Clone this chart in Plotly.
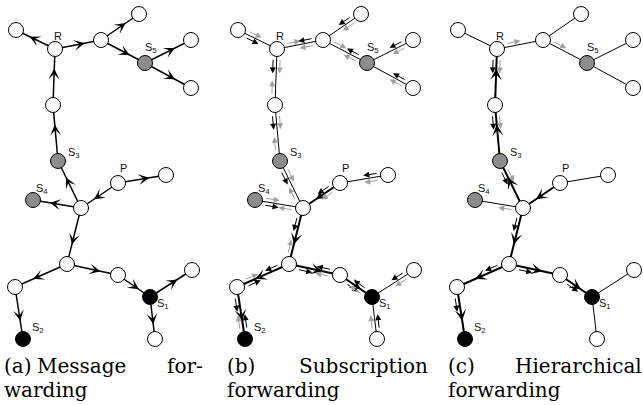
import math
import plotly.graph_objects as go

# ---------------- data ----------------
node_names = ["TL", "R", "N1", "T", "S5", "RT", "RB", "B1", "S3", "P",
              "PR", "S4", "C", "LC", "L", "S2", "MR", "S1", "R2", "BR"]
node_x = [16, 55, 101, 139, 145, 191, 191, 53, 58, 118,
          166, 33, 81, 67, 15, 23, 118, 150, 192, 155]
node_y = [30, 49, 40, 14, 63, 40, 88, 105, 161, 183,
          175, 200, 208, 264, 287, 339, 275, 297, 270, 339]
edge_from = [0, 1, 2, 2, 4, 4, 1, 7, 8, 12, 9, 12, 12, 13, 14, 13, 16, 17, 17]
edge_to = [1, 2, 3, 4, 5, 6, 7, 8, 12, 9, 10, 11, 13, 14, 15, 16, 17, 18, 19]
black_subscribers = [17, 15]      # S1, S2
gray_subscribers = [8, 11, 4]     # S3, S4, S5
publisher = 9                     # P
root = 1                          # R
label_nodes = [1, 4, 8, 9, 11, 17, 15]
label_texts = ["R", "S<sub>5</sub>", "S<sub>3</sub>", "P", "S<sub>4</sub>",
               "S<sub>1</sub>", "S<sub>2</sub>"]
caption_label = ["(a)", "(b)", "(c)"]
caption_mid = ["Message", "", ""]
caption_end = ["for-", "Subscription", "Hierarchical"]
caption_line2 = ["warding", "forwarding", "forwarding"]

# ---------------- layout / style ----------------
W, H = 643, 405
panel_dx = [0, 222, 442]
label_off = [(3, -13), (6, -15), (16, -8), (5, -15), (9, -11), (13, 7), (15, -11)]
cap_left = [3, 226, 447]
cap_mid_x = [36, None, None]
cap_right = [204, 429, 643]
cap_y1, cap_y2 = 366, 389.5
R_NODE = 7.5
GRAY_FILL = "#8c8c8c"
GRAY_ARROW = "#a0a0a0"
SERIF = "DejaVu Serif, serif"
SANS = "Liberation Sans, Arial, Helvetica, sans-serif"

n = len(node_x)
adj = {i: [] for i in range(n)}
for a, b in zip(edge_from, edge_to):
    adj[a].append(b)
    adj[b].append(a)


def side(u, v):
    """nodes reachable from v without passing through u"""
    seen = {u, v}
    stack = [v]
    out = {v}
    while stack:
        k = stack.pop()
        for m in adj[k]:
            if m not in seen:
                seen.add(m)
                out.add(m)
                stack.append(m)
    return out


def parents(src):
    par = {src: None}
    order = [src]
    for k in order:
        for m in adj[k]:
            if m not in par:
                par[m] = k
                order.append(m)
    return par


pub_par = parents(publisher)
root_par = parents(root)
pub_edges = [(pub_par[v], v) for v in range(n) if pub_par[v] is not None]

# message arrows per panel
msg_a = pub_edges
msg_b = [(u, v) for (u, v) in pub_edges if side(u, v) & set(black_subscribers)]
msg_c = [(u, v) for (u, v) in pub_edges
         if (root in side(u, v)) or (root_par.get(v) == u and side(u, v) & set(black_subscribers))]

# subscription arrows per panel: (u, v, colour)
sub_b = []
for a, b in zip(edge_from, edge_to):
    for u, v in ((a, b), (b, a)):
        s = side(u, v)
        if s & set(gray_subscribers):
            sub_b.append((u, v, "gray"))
        if s & set(black_subscribers):
            sub_b.append((u, v, "black"))
sub_c = [(u, v, c) for (u, v, c) in sub_b if root_par.get(v) == u]

fig = go.Figure()
annotations = []


def unit(u, v):
    dx = node_x[v] - node_x[u]
    dy = node_y[v] - node_y[u]
    L = math.hypot(dx, dy)
    return dx / L, dy / L, L


for p, dxp in enumerate(panel_dx):
    msg = [msg_a, msg_b, msg_c][p]
    msg_set = {frozenset(e) for e in msg}
    thin_x, thin_y, thick_x, thick_y = [], [], [], []
    for a, b in zip(edge_from, edge_to):
        bold = (p > 0 and frozenset((a, b)) in msg_set)
        xs, ys = (thick_x, thick_y) if bold else (thin_x, thin_y)
        xs += [node_x[a] + dxp, node_x[b] + dxp, None]
        ys += [node_y[a], node_y[b], None]
    fig.add_trace(go.Scatter(x=thin_x, y=thin_y, mode="lines",
                             line=dict(color="black", width=1.5 if p == 0 else 1.0),
                             hoverinfo="skip"))
    if thick_x:
        fig.add_trace(go.Scatter(x=thick_x, y=thick_y, mode="lines",
                                 line=dict(color="black", width=2.0), hoverinfo="skip"))
    fills = []
    for i in range(n):
        if i in black_subscribers:
            fills.append("black")
        elif i in gray_subscribers:
            fills.append(GRAY_FILL)
        else:
            fills.append("white")
    fig.add_trace(go.Scatter(x=[x + dxp for x in node_x], y=node_y, mode="markers",
                             marker=dict(size=15, color=fills,
                                         line=dict(color="black", width=1)),
                             hoverinfo="skip"))
    # message arrowheads
    for u, v in msg:
        ux, uy, L = unit(u, v)
        hx = node_x[u] + dxp + ux * L * 0.65
        hy = node_y[u] + uy * L * 0.65
        annotations.append(dict(x=hx, y=hy, ax=hx - ux * 7, ay=hy - uy * 7,
                                xref="x", yref="y", axref="x", ayref="y",
                                text="", showarrow=True, arrowhead=3,
                                arrowsize=1.2 if p == 0 else 0.95,
                                arrowwidth=1.5 if p == 0 else 2.0,
                                arrowcolor="black", standoff=0))
    # subscription arrows
    subs = [[], sub_b, sub_c][p]
    for u, v, c in subs:
        ux, uy, L = unit(u, v)
        lx, ly = uy, -ux  # left normal (screen coords)
        sgn = 1 if c == "gray" else -1
        off = 3.5
        tx = node_x[u] + dxp + ux * (R_NODE + 2) + sgn * lx * off
        ty = node_y[u] + uy * (R_NODE + 2) + sgn * ly * off
        hx = tx + ux * 15
        hy = ty + uy * 15
        annotations.append(dict(x=hx, y=hy, ax=tx, ay=ty,
                                xref="x", yref="y", axref="x", ayref="y",
                                text="", showarrow=True, arrowhead=2,
                                arrowsize=1.2, arrowwidth=1,
                                arrowcolor="black" if c == "black" else GRAY_ARROW,
                                standoff=0))
    # node labels
    for k, i in enumerate(label_nodes):
        ox, oy = label_off[k]
        annotations.append(dict(x=node_x[i] + dxp + ox, y=node_y[i] + oy,
                                xref="x", yref="y", text=label_texts[k],
                                showarrow=False, font=dict(family=SANS, size=11, color="#111"),
                                xanchor="center", yanchor="middle"))
    # captions
    capfont = dict(family=SERIF, size=20, color="black")
    annotations.append(dict(x=cap_left[p], y=cap_y1, xref="x", yref="y",
                            text=caption_label[p], showarrow=False, font=capfont,
                            xanchor="left", yanchor="middle", borderpad=0))
    if caption_mid[p]:
        annotations.append(dict(x=cap_mid_x[p], y=cap_y1, xref="x", yref="y",
                                text=caption_mid[p], showarrow=False, font=capfont,
                                xanchor="left", yanchor="middle", borderpad=0))
    annotations.append(dict(x=cap_right[p], y=cap_y1, xref="x", yref="y",
                            text=caption_end[p], showarrow=False, font=capfont,
                            xanchor="right", yanchor="middle", borderpad=0))
    annotations.append(dict(x=cap_left[p], y=cap_y2, xref="x", yref="y",
                            text=caption_line2[p], showarrow=False, font=capfont,
                            xanchor="left", yanchor="middle", borderpad=0))

fig.update_layout(width=W, height=H, margin=dict(l=0, r=0, t=0, b=0),
                  paper_bgcolor="white", plot_bgcolor="white", showlegend=False,
                  annotations=annotations,
                  xaxis=dict(range=[0, W], visible=False, fixedrange=True),
                  yaxis=dict(range=[H, 0], visible=False, fixedrange=True))
fig.write_html("out.html", config={"displayModeBar": False},
               post_script="document.body.style.margin='0';document.body.style.overflow='hidden';")
